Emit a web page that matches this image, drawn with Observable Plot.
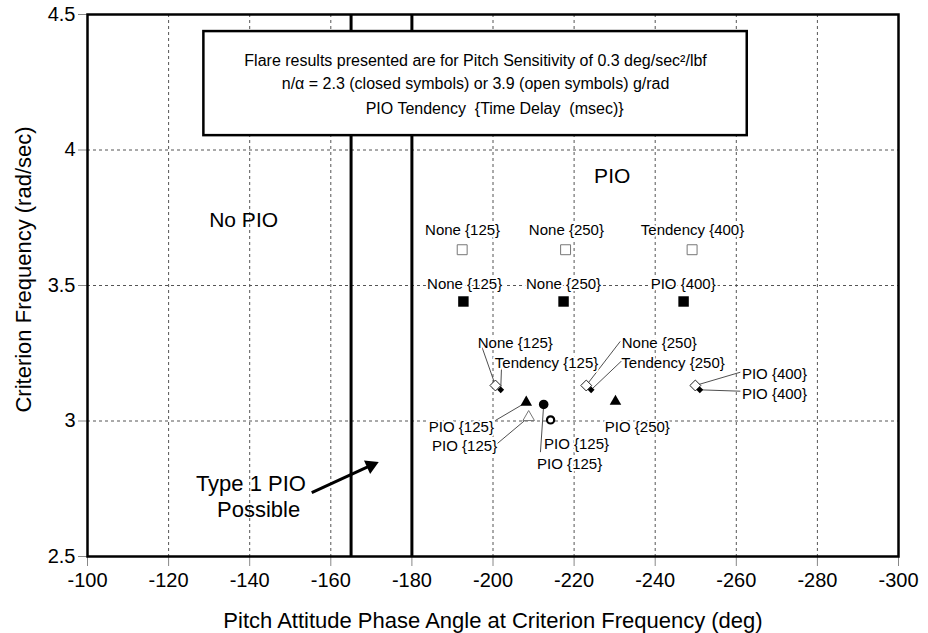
<!DOCTYPE html>
<html><head><meta charset="utf-8">
<script src="https://cdn.jsdelivr.net/npm/d3@7"></script>
<script src="https://cdn.jsdelivr.net/npm/@observablehq/plot@0.6"></script>
<style>body{margin:0;background:#fff}</style>
</head><body><div id="chart"></div>
<script>
// ---- axis ticks ----
const xTicks = [-100, -120, -140, -160, -180, -200, -220, -240, -260, -280, -300];
const yTicks = [2.5, 3, 3.5, 4, 4.5];
const boundaryPhase = [-165, -180];

// ---- flare results ----
const phaseDeg = [-192.4, -217.9, -249.1, -192.7, -217.4, -247.0, -200.6, -223.0, -249.9, -201.9, -224.2, -251.0, -208.2, -208.8, -212.5, -214.2, -230.2];
const freqRad  = [3.632, 3.632, 3.632, 3.441, 3.441, 3.441, 3.131, 3.131, 3.131, 3.115, 3.115, 3.115, 3.069, 3.014, 3.061, 3.004, 3.072];
const markerShape = ["square","square","square","square","square","square","diamond","diamond","diamond","diamond","diamond","diamond","triangle","triangle","circle","circle","triangle"];
const closedSymbol = [false,false,false,true,true,true,false,false,false,true,true,true,true,false,true,false,true];
const pioTendency = ["None","None","Tendency","None","None","PIO","None","None","PIO","Tendency","Tendency","PIO","PIO","PIO","PIO","PIO","PIO"];
const timeDelayMs = [125,250,400,125,250,400,125,250,400,125,250,400,125,125,125,125,250];

// label anchors and leader-line starts (data units)
const labelPhase = [-192.5, -218.1, -249.2, -193.0, -217.4, -246.9, -205.5, -241.0, -269.4, -213.2, -244.4, -269.4, -192.2, -193.0, -218.9, -220.6, -235.6];
const labelFreq  = [3.703, 3.703, 3.703, 3.504, 3.504, 3.504, 3.287, 3.287, 3.174, 3.213, 3.213, 3.100, 2.977, 2.906, 2.839, 2.914, 2.978];
const leaderPhase = [null,null,null,null,null,null,-197.3,-231.4,-261.0,-202.1,-231.8,-261.0,-200.6,-201.0,-211.7,null,null];
const leaderFreq  = [null,null,null,null,null,null,3.272,3.294,3.180,3.199,3.223,3.110,3.002,2.916,2.885,null,null];

// ---- annotations ----
const boxNotes = [
  "Flare results presented are for Pitch Sensitivity of 0.3 deg/sec\u00B2/lbf",
  "n/\u03B1 = 2.3 (closed symbols) or 3.9 (open symbols) g/rad",
  "PIO Tendency  {Time Delay  (msec)}"
];
const boxNotePhase = [-195.7, -195.7, -200.4];
const boxNoteFreq = [4.330, 4.244, 4.152];
const boxPhase = [-128.7, -262.7];
const boxFreq = [4.053, 4.437];
const regionLabels = ["No PIO", "PIO"];
const regionPhase = [-138.5, -229.4];
const regionFreq = [3.740, 3.902];
const type1Labels = ["Type 1 PIO", "Possible"];
const type1Phase = [-140.3, -142.2];
const type1Freq = [2.769, 2.670];
const arrowPhase = [-155.3, -169.9];
const arrowFreq = [2.736, 2.836];

const pts = phaseDeg.map((x, i) => ({
  x, y: freqRad[i], shape: markerShape[i], closed: closedSymbol[i],
  label: `${pioTendency[i]} {${timeDelayMs[i]}}`,
  lx: labelPhase[i], ly: labelFreq[i], ax: leaderPhase[i], ay: leaderFreq[i]
}));
const leaders = pts.filter(d => d.ax != null);
const box = [{x1: boxPhase[0], x2: boxPhase[1], y1: boxFreq[0], y2: boxFreq[1]}];
const notes = boxNotes.map((t, i) => ({t, x: boxNotePhase[i], y: boxNoteFreq[i]}));
const regions = regionLabels.map((t, i) => ({t, x: regionPhase[i], y: regionFreq[i]}));
const type1 = type1Labels.map((t, i) => ({t, x: type1Phase[i], y: type1Freq[i]}));
const arrow = [{x1: arrowPhase[0], y1: arrowFreq[0], x2: arrowPhase[1], y2: arrowFreq[1]}];

const grid = {stroke: "#555", strokeOpacity: 1, strokeWidth: 1, strokeDasharray: "3,3"};
const sel = (s, c) => pts.filter(d => d.shape === s && d.closed === c);

const chart = Plot.plot({
  width: 928, height: 633,
  marginLeft: 87, marginRight: 30, marginTop: 14, marginBottom: 77,
  style: {fontFamily: "'Liberation Sans', Arial, sans-serif", background: "white", color: "black"},
  x: {domain: [-100, -300]},
  y: {domain: [2.5, 4.5]},
  marks: [
    Plot.gridX(xTicks.slice(1, -1), grid),
    Plot.gridY(yTicks.slice(1, -1), grid),
    Plot.axisX({ticks: xTicks, tickSize: 10, tickPadding: 6, fontSize: 20, stroke: "#888", fill: "black", tickFormat: d => String(d), label: null}),
    Plot.axisY({ticks: yTicks, tickSize: 9, tickPadding: 3, fontSize: 20, stroke: "#888", fill: "black", tickFormat: d => String(d), label: null}),
    Plot.ruleX(boundaryPhase, {stroke: "black", strokeWidth: 3}),
    Plot.frame({stroke: "black", strokeWidth: 2.5}),
    Plot.rect(box, {x1: "x1", x2: "x2", y1: "y1", y2: "y2", fill: "white", stroke: "black", strokeWidth: 2.5}),
    Plot.text(notes, {x: "x", y: "y", text: "t", fontSize: 16, textAnchor: "middle", lineAnchor: "middle"}),
    Plot.text(regions, {x: "x", y: "y", text: "t", fontSize: 21, lineAnchor: "middle"}),
    Plot.text(type1, {x: "x", y: "y", text: "t", fontSize: 22, lineAnchor: "middle"}),
    Plot.link(arrow, {x1: "x1", y1: "y1", x2: "x2", y2: "y2", stroke: "black", strokeWidth: 3}),
    Plot.dot(arrow, {x: "x2", y: "y2", symbol: "triangle", r: 5.5, fill: "black", rotate: 65.5}),
    Plot.link(leaders, {x1: "ax", y1: "ay", x2: "x", y2: "y", stroke: "#222", strokeWidth: 0.8}),
    Plot.text(pts, {x: "lx", y: "ly", text: "label", fontSize: 15, lineAnchor: "middle", fill: "black", stroke: "white", strokeWidth: 4}),
    Plot.dot(sel("square", false), {x: "x", y: "y", symbol: "square", r: 5.6, fill: "white", stroke: "#777", strokeWidth: 1}),
    Plot.dot(sel("square", true), {x: "x", y: "y", symbol: "square", r: 5.9, fill: "black", stroke: "none"}),
    Plot.dot(sel("diamond", false), {x: "x", y: "y", symbol: "diamond2", r: 4.9, fill: "white", stroke: "#222", strokeWidth: 1}),
    Plot.dot(sel("diamond", true), {x: "x", y: "y", symbol: "diamond2", r: 3.1, fill: "black", stroke: "none"}),
    Plot.dot(sel("triangle", false), {x: "x", y: "y", symbol: "triangle", r: 4.3, fill: "white", stroke: "#777", strokeWidth: 1}),
    Plot.dot(sel("triangle", true), {x: "x", y: "y", symbol: "triangle", r: 4.3, fill: "black", stroke: "none"}),
    Plot.dot(sel("circle", false), {x: "x", y: "y", symbol: "circle", r: 3.6, fill: "white", stroke: "black", strokeWidth: 2.2}),
    Plot.dot(sel("circle", true), {x: "x", y: "y", symbol: "circle", r: 4.8, fill: "black", stroke: "none"}),
    Plot.text(["Pitch Attitude Phase Angle at Criterion Frequency (deg)"], {frameAnchor: "bottom", dy: 64, fontSize: 22, lineAnchor: "middle"}),
    Plot.text(["Criterion Frequency (rad/sec)"], {frameAnchor: "left", dx: -64, dy: -16, rotate: -90, fontSize: 22, textAnchor: "middle", lineAnchor: "middle"})
  ]
});
document.getElementById("chart").appendChild(chart);
</script></body></html>
